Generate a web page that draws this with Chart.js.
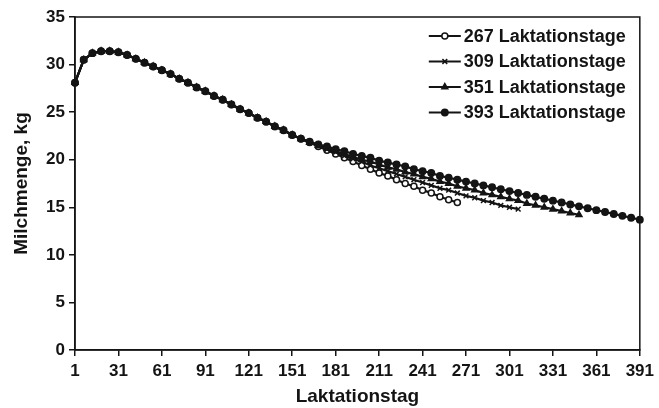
<!DOCTYPE html>
<html lang="de">
<head>
<meta charset="UTF-8">
<title>Milchmenge je Laktationstag</title>
<script src="https://cdn.jsdelivr.net/npm/chart.js"></script>
<style>
  body { margin: 0; background: #fff; }
  canvas { display: block; }
</style>
</head>
<body>
<canvas id="c" width="659" height="408"></canvas>
<script>
// Laktationstage (ein Punkt alle 6 Tage)
const days = [1,7,13,19,25,31,37,43,49,55,61,67,73,79,85,91,97,103,109,115,121,127,133,139,145,151,157,
  163,169,175,181,187,193,199,205,211,217,223,229,235,241,247,253,259,265,271,277,283,289,295,301,307,
  313,319,325,331,337,343,349,355,361,367,373,379,385,391];

// gemeinsamer Kurvenverlauf bis Tag 157
const shared = [28.1,30.5,31.2,31.4,31.4,31.3,31.0,30.6,30.2,29.8,29.4,29.0,28.5,28.1,27.6,27.2,26.7,26.3,
  25.8,25.3,24.9,24.4,24.0,23.5,23.1,22.6,22.2];

// Verlauf ab Tag 163 je Laktationslaenge
const tail267 = [21.8,21.4,21.0,20.6,20.2,19.8,19.4,19.0,18.6,18.3,17.9,17.5,17.2,16.8,16.5,16.1,15.8,15.5];
const tail309 = [21.8,21.5,21.1,20.8,20.4,20.1,19.8,19.4,19.1,18.8,18.5,18.2,17.9,17.6,17.3,17.0,16.8,16.5,
  16.2,16.0,15.7,15.5,15.2,15.0,14.8];
const tail351 = [21.8,21.5,21.2,20.9,20.6,20.3,20.0,19.8,19.5,19.2,19.0,18.7,18.5,18.2,18.0,17.7,17.5,17.2,
  17.0,16.8,16.5,16.3,16.1,15.9,15.7,15.4,15.2,15.0,14.8,14.6,14.4,14.2];
const tail393 = [21.9,21.6,21.4,21.1,20.9,20.6,20.4,20.2,19.9,19.7,19.5,19.3,19.0,18.8,18.6,18.3,18.1,17.9,
  17.7,17.5,17.3,17.1,16.9,16.7,16.5,16.3,16.1,15.9,15.7,15.5,15.3,15.1,14.9,14.7,14.5,14.3,14.1,13.9,13.7];

const yTicks = [0,5,10,15,20,25,30,35];

const ink = '#141414';
const font = 'Liberation Sans, Arial, sans-serif';

function series(label, tail, style, fill, radius) {
  return {
    label: label,
    data: shared.concat(tail),
    borderColor: ink,
    borderWidth: 2.2,
    pointStyle: style,
    pointRadius: radius,
    pointBorderWidth: 1.5,
    pointBorderColor: ink,
    pointBackgroundColor: fill,
    tension: 0,
    spanGaps: false
  };
}

// erster Datensatz wird zuletzt (oben) gezeichnet -> 393 zuerst
const datasets = [
  series('393 Laktationstage', tail393, 'circle', ink, 3.2),
  series('351 Laktationstage', tail351, 'triangle', ink, 3.4),
  series('309 Laktationstage', tail309, 'crossRot', ink, 3.4),
  series('267 Laktationstage', tail267, 'circle', '#fff', 3.0)
];

// Rahmen um die Zeichenflaeche
const frame = {
  id: 'frame',
  afterDraw(chart) {
    const a = chart.chartArea, ctx = chart.ctx;
    ctx.save();
    ctx.strokeStyle = ink;
    ctx.lineWidth = 1.5;
    ctx.strokeRect(a.left, a.top, a.right - a.left, a.bottom - a.top);
    ctx.restore();
  }
};

// Legende oben rechts innerhalb der Zeichenflaeche
const innerLegend = {
  id: 'innerLegend',
  afterDraw(chart) {
    const a = chart.chartArea, ctx = chart.ctx;
    const x0 = a.right - 211, y0 = a.top + 19, step = 25.5;
    ctx.save();
    ctx.font = 'bold 18px ' + font;
    ctx.textBaseline = 'middle';
    const list = chart.data.datasets.slice().reverse();
    list.forEach((ds, i) => {
      const y = y0 + i * step;
      ctx.strokeStyle = ink;
      ctx.lineWidth = 2;
      ctx.beginPath();
      ctx.moveTo(x0, y);
      ctx.lineTo(x0 + 32, y);
      ctx.stroke();
      ctx.fillStyle = ds.pointBackgroundColor;
      ctx.lineWidth = ds.pointBorderWidth;
      Chart.helpers.drawPoint(ctx, {
        pointStyle: ds.pointStyle, radius: ds.pointRadius, borderWidth: ds.pointBorderWidth
      }, x0 + 16, y);
      ctx.fillStyle = ink;
      ctx.fillText(ds.label, x0 + 35, y + 1);
    });
    ctx.restore();
  }
};

new Chart(document.getElementById('c'), {
  type: 'line',
  data: { labels: days, datasets: datasets },
  plugins: [frame, innerLegend],
  options: {
    responsive: false,
    animation: false,
    layout: { padding: { left: 0, right: 14, top: 17, bottom: 0 } },
    plugins: { legend: { display: false }, tooltip: { enabled: false } },
    scales: {
      x: {
        offset: false,
        afterFit(scale) { scale.height = 58; },
        ticks: {
          autoSkip: false, maxRotation: 0, padding: 5, color: ink,
          font: { family: font, size: 17, weight: 'bold' },
          callback(v, i) { return i % 5 === 0 ? this.getLabelForValue(v) : null; }
        },
        grid: { drawOnChartArea: false, tickLength: 6, color: ink, lineWidth: 1.5 },
        border: { color: ink, width: 1.5 },
        title: {
          display: true, text: 'Laktationstag', color: ink,
          font: { family: font, size: 19, weight: 'bold' }, padding: { top: 0, bottom: 0 }
        }
      },
      y: {
        min: 0, max: 35,
        afterFit(scale) { scale.width = 75; },
        afterBuildTicks(scale) { scale.ticks = yTicks.map(v => ({ value: v })); },
        ticks: {
          padding: 4, color: ink,
          font: { family: font, size: 17, weight: 'bold' }
        },
        grid: { drawOnChartArea: false, tickLength: 6, color: ink, lineWidth: 1.5 },
        border: { color: ink, width: 1.5 },
        title: {
          display: true, text: 'Milchmenge, kg', color: ink,
          font: { family: font, size: 19, weight: 'bold' }, padding: { top: 10, bottom: 0 }
        }
      }
    }
  }
});
</script>
</body>
</html>
